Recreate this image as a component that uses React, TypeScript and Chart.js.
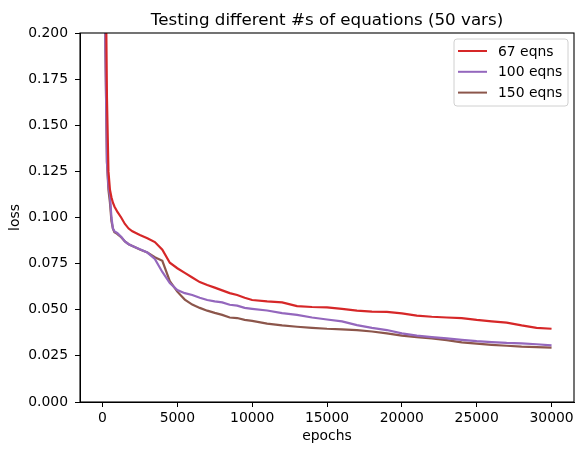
import { useEffect, useRef } from 'react';
import { Chart, registerables } from 'chart.js';
import type { Plugin } from 'chart.js';

Chart.register(...registerables);

const epochs = [
  0, 100, 200, 300, 400, 500, 600, 700, 800, 900, 1000, 1250, 1500, 1750, 2000,
  2500, 3000, 3500, 4000, 4500, 5000, 5500, 6000, 6500, 7000, 7500, 8000, 8500,
  9000, 9500, 10000, 11000, 12000, 13000, 14000, 15000, 16000, 17000, 18000,
  19000, 20000, 21000, 22000, 23000, 24000, 25000, 26000, 27000, 28000, 29000, 30000,
];

const loss67 = [
  0.6, 0.4, 0.25, 0.165, 0.125, 0.115, 0.111, 0.108, 0.106, 0.1045, 0.103, 0.1,
  0.0965, 0.094, 0.0925, 0.0905, 0.0888, 0.0867, 0.0825, 0.0755, 0.0725, 0.07,
  0.0675, 0.065, 0.0634, 0.062, 0.0605, 0.059, 0.058, 0.0565, 0.0553, 0.0545,
  0.054, 0.052, 0.0515, 0.0513, 0.0505, 0.0495, 0.049, 0.0488, 0.048, 0.0468,
  0.0462, 0.0458, 0.0455, 0.0445, 0.0437, 0.043, 0.0415, 0.0402, 0.0397,
];

const loss100 = [
  0.5, 0.3, 0.19, 0.13, 0.117, 0.112, 0.1, 0.094, 0.0925, 0.092, 0.0915, 0.0896,
  0.087, 0.0855, 0.0845, 0.0828, 0.081, 0.0775, 0.0705, 0.0645, 0.0607, 0.059,
  0.058, 0.0565, 0.0553, 0.0545, 0.054, 0.0527, 0.0522, 0.051, 0.0505, 0.0496,
  0.0482, 0.0472, 0.0458, 0.0447, 0.0437, 0.0417, 0.0402, 0.039, 0.0372, 0.036,
  0.0352, 0.0345, 0.0337, 0.033, 0.0325, 0.032, 0.0318, 0.0313, 0.0307,
];

const loss150 = [
  0.5, 0.3, 0.19, 0.13, 0.115, 0.108, 0.098, 0.094, 0.092, 0.0915, 0.091, 0.0893,
  0.087, 0.0855, 0.0845, 0.0826, 0.081, 0.0785, 0.0765, 0.0655, 0.0598, 0.0555,
  0.0528, 0.051, 0.0495, 0.0483, 0.0472, 0.0458, 0.0455, 0.0445, 0.044, 0.0425,
  0.0415, 0.0408, 0.0402, 0.0397, 0.0394, 0.039, 0.0382, 0.0372, 0.036, 0.0352,
  0.0345, 0.0335, 0.0323, 0.0316, 0.031, 0.0305, 0.03, 0.0297, 0.0295,
];

const seriesLabels = ['67 eqns', '100 eqns', '150 eqns'];
const seriesColors = ['#d62728', '#9467bd', '#8c564b'];

const xTicks = [0, 5000, 10000, 15000, 20000, 25000, 30000];
const yTicks = [0, 0.025, 0.05, 0.075, 0.1, 0.125, 0.15, 0.175, 0.2];

const FONT = '"DejaVu Sans", sans-serif';

// title, frame and the in-plot legend, drawn matplotlib style
const decorPlugin: Plugin<'line'> = {
  id: 'decor',
  afterDatasetsDraw(chart) {
    const { ctx, chartArea: a } = chart;
    ctx.save();
    ctx.strokeStyle = '#000';
    ctx.lineWidth = 1.1;
    ctx.strokeRect(a.left, a.top, a.right - a.left, a.bottom - a.top);

    ctx.fillStyle = '#000';
    ctx.font = `16.7px ${FONT}`;
    ctx.textAlign = 'center';
    ctx.textBaseline = 'alphabetic';
    ctx.fillText('Testing different #s of equations (50 vars)', (a.left + a.right) / 2, 25);

    const bx = a.right - 120;
    const by = a.top + 6;
    const bw = 114;
    const bh = 67;
    ctx.beginPath();
    ctx.roundRect(bx, by, bw, bh, 3);
    ctx.fillStyle = 'rgba(255,255,255,0.8)';
    ctx.fill();
    ctx.strokeStyle = '#d0d0d0';
    ctx.lineWidth = 1;
    ctx.stroke();

    ctx.font = `13.9px ${FONT}`;
    ctx.textAlign = 'left';
    ctx.textBaseline = 'middle';
    seriesLabels.forEach((label, i) => {
      const y = by + 12 + i * 20.8;
      ctx.beginPath();
      ctx.moveTo(bx + 4, y);
      ctx.lineTo(bx + 33, y);
      ctx.strokeStyle = seriesColors[i];
      ctx.lineWidth = 2;
      ctx.stroke();
      ctx.fillStyle = '#000';
      ctx.fillText(label, bx + 44, y + 1);
    });
    ctx.restore();
  },
};

export default function App() {
  const canvasRef = useRef<HTMLCanvasElement>(null);
  const chartRef = useRef<Chart<'line'> | null>(null);

  useEffect(() => {
    document.body.style.margin = '0';
    if (!canvasRef.current) return;
    if (chartRef.current) chartRef.current.destroy();

    const series = [loss67, loss100, loss150];

    chartRef.current = new Chart(canvasRef.current, {
      type: 'line',
      data: {
        datasets: series.map((values, i) => ({
          label: seriesLabels[i],
          data: values.map((v, j) => ({ x: epochs[j], y: v })),
          borderColor: seriesColors[i],
          borderWidth: 2.2,
          pointRadius: 0,
          tension: 0,
          fill: false,
        })),
      },
      options: {
        animation: false,
        responsive: true,
        maintainAspectRatio: false,
        layout: { padding: { top: 33, right: 10, left: 0, bottom: 0 } },
        plugins: {
          legend: { display: false },
          title: { display: false },
          tooltip: { enabled: false },
        },
        scales: {
          x: {
            type: 'linear',
            min: -1500,
            max: 31500,
            afterBuildTicks: (s) => {
              s.ticks = xTicks.map((v) => ({ value: v }));
            },
            afterFit: (s) => {
              s.height = 53;
            },
            grid: { drawOnChartArea: false, tickLength: 5, tickColor: '#000', tickWidth: 1 },
            border: { display: true, color: '#000' },
            ticks: {
              color: '#000',
              font: { family: FONT, size: 13.9 },
              padding: 3,
              maxRotation: 0,
              callback: (v) => String(v),
            },
            title: {
              display: true,
              text: 'epochs',
              color: '#000',
              font: { family: FONT, size: 13.9 },
              padding: { top: 0, bottom: 10 },
            },
          },
          y: {
            type: 'linear',
            min: 0,
            max: 0.2,
            afterBuildTicks: (s) => {
              s.ticks = yTicks.map((v) => ({ value: v }));
            },
            afterFit: (s) => {
              s.width = 80;
            },
            grid: { drawOnChartArea: false, tickLength: 5, tickColor: '#000', tickWidth: 1 },
            border: { display: true, color: '#000' },
            ticks: {
              color: '#000',
              font: { family: FONT, size: 13.9 },
              padding: 7,
              callback: (v) => Number(v).toFixed(3),
            },
            title: {
              display: true,
              text: 'loss',
              color: '#000',
              font: { family: FONT, size: 13.9 },
              padding: { top: 7, bottom: 0 },
            },
          },
        },
      },
      plugins: [decorPlugin],
    });

    return () => {
      if (chartRef.current) {
        chartRef.current.destroy();
        chartRef.current = null;
      }
    };
  }, []);

  return (
    <div style={{ width: '584px', height: '455px', position: 'relative', background: '#fff' }}>
      <canvas ref={canvasRef} />
    </div>
  );
}
